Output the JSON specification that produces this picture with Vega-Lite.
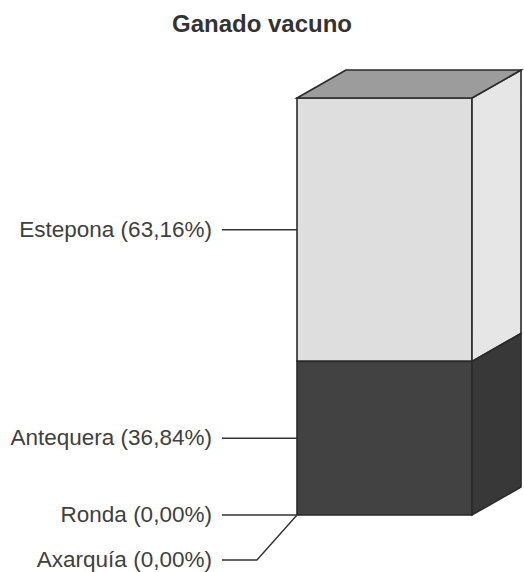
{
  "$schema": "https://vega.github.io/schema/vega-lite/v6.json",
  "width": 524,
  "height": 527,
  "autosize": {"type": "none"},
  "padding": {"left": 0, "right": 0, "top": 45, "bottom": 0},
  "background": "white",
  "title": {"text": "Ganado vacuno", "font": "Liberation Sans", "fontSize": 24, "fontWeight": "bold", "color": "#333333", "anchor": "middle", "offset": 8},
  "config": {"view": {"stroke": null}},
  "data": {"values": [
    {"region": "Estepona", "share": 63.16},
    {"region": "Antequera", "share": 36.84},
    {"region": "Ronda", "share": 0},
    {"region": "Axarquía", "share": 0}
  ]},
  "transform": [
    {"window": [{"op": "row_number", "as": "rank"}], "sort": [{"field": "share", "order": "ascending"}, {"field": "region", "order": "ascending"}]},
    {"stack": "share", "groupby": [], "sort": [{"field": "rank", "order": "ascending"}], "as": ["y0", "y1"]},
    {"calculate": "datum.share > 0 ? (datum.y0 + datum.y1) / 2 : (datum.rank - 2) * 10.8", "as": "labelY"}
  ],
  "layer": [
    {
      "transform": [{"filter": "datum.share > 0"}],
      "mark": {"type": "rect", "stroke": "#2a2a2a", "strokeWidth": 1.6},
      "encoding": {
        "x": {"datum": 0, "type": "quantitative", "scale": {"domain": [-1.697, 1.297], "nice": false, "zero": false}, "axis": null},
        "x2": {"datum": 1},
        "y": {"field": "y0", "type": "quantitative", "scale": {"domain": [-13.67, 112.71], "nice": false, "zero": false}, "axis": null},
        "y2": {"field": "y1"},
        "fill": {"condition": {"test": "datum.region === 'Estepona'", "value": "#dedede"}, "value": "#424242"}
      }
    },
    {
      "transform": [
        {"filter": "datum.share > 0"},
        {"calculate": "[0, 1]", "as": "k"},
        {"flatten": ["k"]},
        {"calculate": "1 + datum.k * 0.28", "as": "sx"},
        {"calculate": "datum.y0 + datum.k * 6.7", "as": "sy0"},
        {"calculate": "datum.y1 + datum.k * 6.7", "as": "sy1"}
      ],
      "mark": {"type": "area", "orient": "vertical", "stroke": "#2a2a2a", "strokeWidth": 1.6},
      "encoding": {
        "x": {"field": "sx", "type": "quantitative", "scale": {"domain": [-1.697, 1.297], "nice": false, "zero": false}, "axis": null},
        "y": {"field": "sy1", "type": "quantitative", "scale": {"domain": [-13.67, 112.71], "nice": false, "zero": false}, "axis": null},
        "y2": {"field": "sy0"},
        "detail": {"field": "region", "type": "nominal"},
        "fill": {"condition": {"test": "datum.region === 'Estepona'", "value": "#e6e6e6"}, "value": "#383838"}
      }
    },
    {
      "transform": [
        {"joinaggregate": [{"op": "max", "field": "y1", "as": "top"}]},
        {"filter": "datum.y1 === datum.top && datum.share > 0"},
        {"calculate": "[0, 1]", "as": "k"},
        {"flatten": ["k"]},
        {"calculate": "datum.y1 + datum.k * 6.7", "as": "ty"},
        {"calculate": "datum.k * 0.28", "as": "tx0"},
        {"calculate": "1 + datum.k * 0.28", "as": "tx1"}
      ],
      "mark": {"type": "area", "orient": "horizontal", "stroke": "#2a2a2a", "strokeWidth": 1.6, "fill": "#9c9c9c"},
      "encoding": {
        "y": {"field": "ty", "type": "quantitative", "scale": {"domain": [-13.67, 112.71], "nice": false, "zero": false}, "axis": null},
        "x": {"field": "tx0", "type": "quantitative", "scale": {"domain": [-1.697, 1.297], "nice": false, "zero": false}, "axis": null},
        "x2": {"field": "tx1"}
      }
    },
    {
      "transform": [
        {"calculate": "datum.share > 0 ? datum.labelY : 0", "as": "anchorY"},
        {"calculate": "[0, 1, 2]", "as": "k"},
        {"flatten": ["k"]},
        {"calculate": "datum.k === 0 ? -0.429 : (datum.k === 1 ? -0.229 : 0)", "as": "lx"},
        {"calculate": "datum.k === 2 ? datum.anchorY : datum.labelY", "as": "ly"}
      ],
      "mark": {"type": "line", "stroke": "#333333", "strokeWidth": 1.4},
      "encoding": {
        "x": {"field": "lx", "type": "quantitative", "scale": {"domain": [-1.697, 1.297], "nice": false, "zero": false}, "axis": null},
        "y": {"field": "ly", "type": "quantitative", "scale": {"domain": [-13.67, 112.71], "nice": false, "zero": false}, "axis": null},
        "detail": {"field": "region", "type": "nominal"},
        "order": {"field": "k", "type": "quantitative"}
      }
    },
    {
      "transform": [
        {"calculate": "datum.region + ' (' + replace(format(datum.share, '.2f'), '.', ',') + '%)'", "as": "label"}
      ],
      "mark": {"type": "text", "align": "right", "baseline": "middle", "dx": -10, "font": "Liberation Sans", "fontSize": 22.5, "color": "#404040"},
      "encoding": {
        "x": {"datum": -0.429, "type": "quantitative", "scale": {"domain": [-1.697, 1.297], "nice": false, "zero": false}, "axis": null},
        "y": {"field": "labelY", "type": "quantitative", "scale": {"domain": [-13.67, 112.71], "nice": false, "zero": false}, "axis": null},
        "text": {"field": "label", "type": "nominal"}
      }
    }
  ]
}
